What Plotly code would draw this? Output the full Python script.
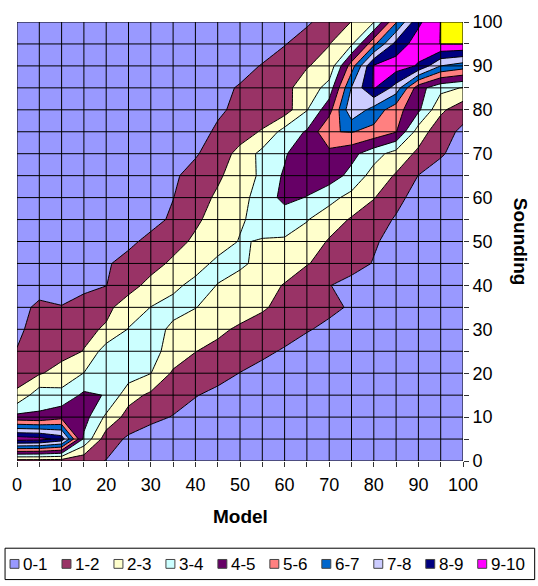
import plotly.graph_objects as go

# ---------------- data ----------------
model = [0, 5, 10, 15, 20, 25, 30, 35, 40, 45, 50, 55, 60, 65, 70, 75, 80, 85, 90, 95, 100]
sounding = [0, 5, 10, 15, 20, 25, 30, 35, 40, 45, 50, 55, 60, 65, 70, 75, 80, 85, 90, 95, 100]

# z rows: one row per sounding value (0 .. 100), columns follow model (0 .. 100)
z_s000 = [1.5, 1.5, 1.5, 1.3, 0.97, 0.5, 0.4, 0.3, 0.3, 0.3, 0.3, 0.3, 0.3, 0.3, 0.3, 0.3, 0.3, 0.3, 0.3, 0.3, 0.3]
z_s005 = [9.5, 9.4, 8.6, 3.8, 1.45, 0.85, 0.5, 0.4, 0.3, 0.3, 0.3, 0.3, 0.3, 0.3, 0.3, 0.3, 0.3, 0.3, 0.3, 0.3, 0.3]
z_s010 = [4.3, 4.15, 4.7, 4.4, 2.8, 1.6, 1.25, 0.95, 0.6, 0.4, 0.3, 0.3, 0.3, 0.3, 0.3, 0.3, 0.3, 0.3, 0.3, 0.3, 0.3]
z_s015 = [2.2, 3.6, 3.3, 4.2, 3.95, 2.4, 1.8, 1.45, 1.05, 0.75, 0.5, 0.3, 0.3, 0.3, 0.3, 0.3, 0.3, 0.3, 0.3, 0.3, 0.3]
z_s020 = [1.55, 1.9, 2.4, 3.02, 3.4, 3.5, 3.02, 1.85, 1.6, 1.35, 0.98, 0.7, 0.5, 0.3, 0.3, 0.3, 0.3, 0.3, 0.3, 0.3, 0.3]
z_s025 = [1.02, 1.35, 1.65, 2.03, 3.5, 3.5, 3.3, 2.65, 2.02, 1.75, 1.5, 1.2, 0.9, 0.6, 0.4, 0.3, 0.3, 0.3, 0.3, 0.3, 0.3]
z_s030 = [0.9, 1.2, 1.45, 1.8, 2.1, 3.05, 3.4, 2.8, 2.6, 2.2, 1.85, 1.65, 1.4, 1.07, 0.8, 0.5, 0.3, 0.3, 0.3, 0.3, 0.3]
z_s035 = [0.75, 1.15, 1.03, 1.4, 1.8, 2.4, 3.02, 3.3, 3.02, 2.75, 2.45, 2.1, 1.75, 1.45, 1.2, 0.9, 0.6, 0.4, 0.3, 0.3, 0.3]
z_s040 = [0.5, 0.7, 0.7, 0.75, 0.98, 1.7, 2.25, 2.8, 3.25, 2.98, 2.65, 2.3, 1.95, 1.5, 1.03, 0.7, 0.5, 0.4, 0.3, 0.3, 0.3]
z_s045 = [0.3, 0.3, 0.35, 0.5, 0.9, 1.3, 1.7, 2.15, 2.65, 3.2, 3.15, 2.75, 2.4, 2.05, 1.7, 1.35, 0.95, 0.6, 0.4, 0.3, 0.3]
z_s050 = [0.3, 0.3, 0.3, 0.3, 0.4, 0.8, 1.25, 1.7, 2.15, 2.6, 3.05, 2.95, 2.9, 2.6, 1.9, 1.5, 1.1, 0.7, 0.4, 0.3, 0.3]
z_s055 = [0.3, 0.3, 0.3, 0.3, 0.3, 0.4, 0.7, 1.15, 1.85, 2.35, 2.9, 3.3, 3.4, 3.05, 2.5, 1.9, 1.45, 0.9, 0.5, 0.3, 0.3]
z_s060 = [0.3, 0.3, 0.3, 0.3, 0.3, 0.3, 0.5, 0.98, 1.6, 2.15, 2.7, 3.4, 4.3, 3.95, 3.3, 2.7, 2.05, 1.3, 0.6, 0.4, 0.3]
z_s065 = [0.3, 0.3, 0.3, 0.3, 0.3, 0.3, 0.5, 0.85, 1.35, 1.85, 2.47, 3.2, 4.15, 4.6, 4.5, 3.7, 2.6, 1.9, 0.98, 0.6, 0.4]
z_s070 = [0.3, 0.3, 0.3, 0.3, 0.3, 0.3, 0.3, 0.6, 0.9, 1.5, 2.3, 3.3, 3.85, 5.02, 4.7, 4.3, 3.4, 2.6, 1.8, 1.1, 0.6]
z_s075 = [0.3, 0.3, 0.3, 0.3, 0.3, 0.3, 0.3, 0.5, 0.75, 1.1, 1.55, 2.1, 3.4, 4.1, 5.95, 6.05, 5.7, 5.05, 2.5, 1.4, 0.8]
z_s080 = [0.3, 0.3, 0.3, 0.3, 0.3, 0.3, 0.3, 0.3, 0.6, 0.9, 1.15, 1.35, 1.5, 2.95, 4.6, 7.8, 6.6, 5.4, 4.2, 2.2, 1.4]
z_s085 = [0.3, 0.3, 0.3, 0.3, 0.3, 0.3, 0.3, 0.3, 0.4, 0.7, 1.1, 1.45, 1.8, 2.36, 3.4, 7.05, 9.1, 7.6, 4.4, 3.3, 2.95]
z_s090 = [0.3, 0.3, 0.3, 0.3, 0.3, 0.3, 0.3, 0.3, 0.3, 0.4, 0.6, 1.07, 1.5, 1.95, 2.3, 5.5, 9.1, 9.5, 8.9, 7.0, 6.5]
z_s095 = [0.3, 0.3, 0.3, 0.3, 0.3, 0.3, 0.3, 0.3, 0.3, 0.3, 0.3, 0.45, 0.95, 1.46, 1.97, 2.84, 5.73, 8.375, 9.5, 10.02, 10.02]
z_s100 = [0.3, 0.3, 0.3, 0.3, 0.3, 0.3, 0.3, 0.3, 0.3, 0.3, 0.3, 0.3, 0.45, 0.86, 1.43, 2.02, 2.96, 5.9, 8.8, 10.02, 12.0]

z = [z_s000, z_s005, z_s010, z_s015, z_s020, z_s025, z_s030, z_s035, z_s040, z_s045,
     z_s050, z_s055, z_s060, z_s065, z_s070, z_s075, z_s080, z_s085, z_s090, z_s095, z_s100]

band_labels = ["0-1", "1-2", "2-3", "3-4", "4-5", "5-6", "6-7", "7-8", "8-9", "9-10"]
band_colors = ["#9999FF", "#993366", "#FFFFCC", "#CCFFFF", "#660066",
               "#FF8080", "#0066CC", "#CCCCFF", "#000080", "#FF00FF"]
over_color = "#FFFF00"

x_ticktext = ["0", "", "10", "", "20", "", "30", "", "40", "", "50", "", "60", "", "70", "", "80", "", "90", "", "100"]
y_ticktext = x_ticktext

# ---------------- layout helpers ----------------
W, H = 538, 586
PL, PR, PT, PB = 15, 463, 13, 461   # plot area in pixels
FONT = "Arial, Liberation Sans, sans-serif"


def px_x(px):
    return (px - PL) / (PR - PL)


def px_y(py):
    return (PB - py) / (PB - PT)


all_colors = band_colors + [over_color]
n = len(all_colors)
colorscale = []
for k, c in enumerate(all_colors):
    colorscale.append([k / n, c])
    colorscale.append([(k + 1) / n, c])

fig = go.Figure()
fig.add_trace(go.Contour(
    x=model, y=sounding, z=z,
    autocontour=False,
    contours=dict(start=1, end=10, size=1, coloring="fill", showlines=True),
    line=dict(color="black", width=1, smoothing=0),
    colorscale=colorscale, showscale=False, hoverinfo="skip",
))

shapes = []
for v in model:
    shapes.append(dict(type="line", xref="x", yref="y", x0=v, x1=v, y0=sounding[0], y1=sounding[-1],
                       line=dict(color="black", width=1), layer="above"))
for v in sounding:
    shapes.append(dict(type="line", xref="x", yref="y", x0=model[0], x1=model[-1], y0=v, y1=v,
                       line=dict(color="black", width=1), layer="above"))

annotations = []
annotations.append(dict(text="<b>Model</b>", xref="paper", yref="paper", x=px_x(239), y=px_y(518),
                        xanchor="center", yanchor="middle", showarrow=False,
                        font=dict(family=FONT, size=19, color="black")))
annotations.append(dict(text="<b>Sounding</b>", xref="paper", yref="paper", x=px_x(521), y=px_y(237),
                        xanchor="center", yanchor="middle", showarrow=False, textangle=90,
                        font=dict(family=FONT, size=19, color="black")))

# legend box (drawn manually, Excel style)
shapes.append(dict(type="rect", xref="paper", yref="paper", x0=px_x(3), x1=px_x(535),
                   y0=px_y(582), y1=px_y(550), line=dict(color="black", width=1),
                   fillcolor="white", layer="above"))
step = 52.2
for i, (lab, col) in enumerate(zip(band_labels, band_colors)):
    sx = 8 + step * i
    shapes.append(dict(type="rect", xref="paper", yref="paper", x0=px_x(sx), x1=px_x(sx + 9),
                       y0=px_y(570.5), y1=px_y(561.5), fillcolor=col,
                       line=dict(color="#444444", width=1), layer="above"))
    annotations.append(dict(text=lab, xref="paper", yref="paper", x=px_x(sx + 11), y=px_y(566.5),
                            xanchor="left", yanchor="middle", showarrow=False,
                            font=dict(family=FONT, size=17, color="black")))

fig.update_xaxes(range=[0, 100], tickvals=model, ticktext=x_ticktext, ticks="outside", ticklen=5,
                 tickcolor="#333333", tickwidth=1, showgrid=False, zeroline=False, showline=False,
                 ticklabelstandoff=2,
                 tickfont=dict(family=FONT, size=18, color="black"))
fig.update_yaxes(range=[0, 100], side="right", tickvals=sounding, ticktext=y_ticktext, ticks="outside",
                 ticklen=5, tickcolor="#333333", tickwidth=1, showgrid=False, zeroline=False,
                 showline=False, tickfont=dict(family=FONT, size=18, color="black"))

fig.update_layout(
    width=W, height=H,
    margin=dict(l=PL, r=W - PR, t=PT, b=H - PB, pad=0),
    paper_bgcolor="white", plot_bgcolor="white",
    showlegend=False,
    shapes=shapes, annotations=annotations,
    font=dict(family=FONT),
)

fig.write_html("out.html")
